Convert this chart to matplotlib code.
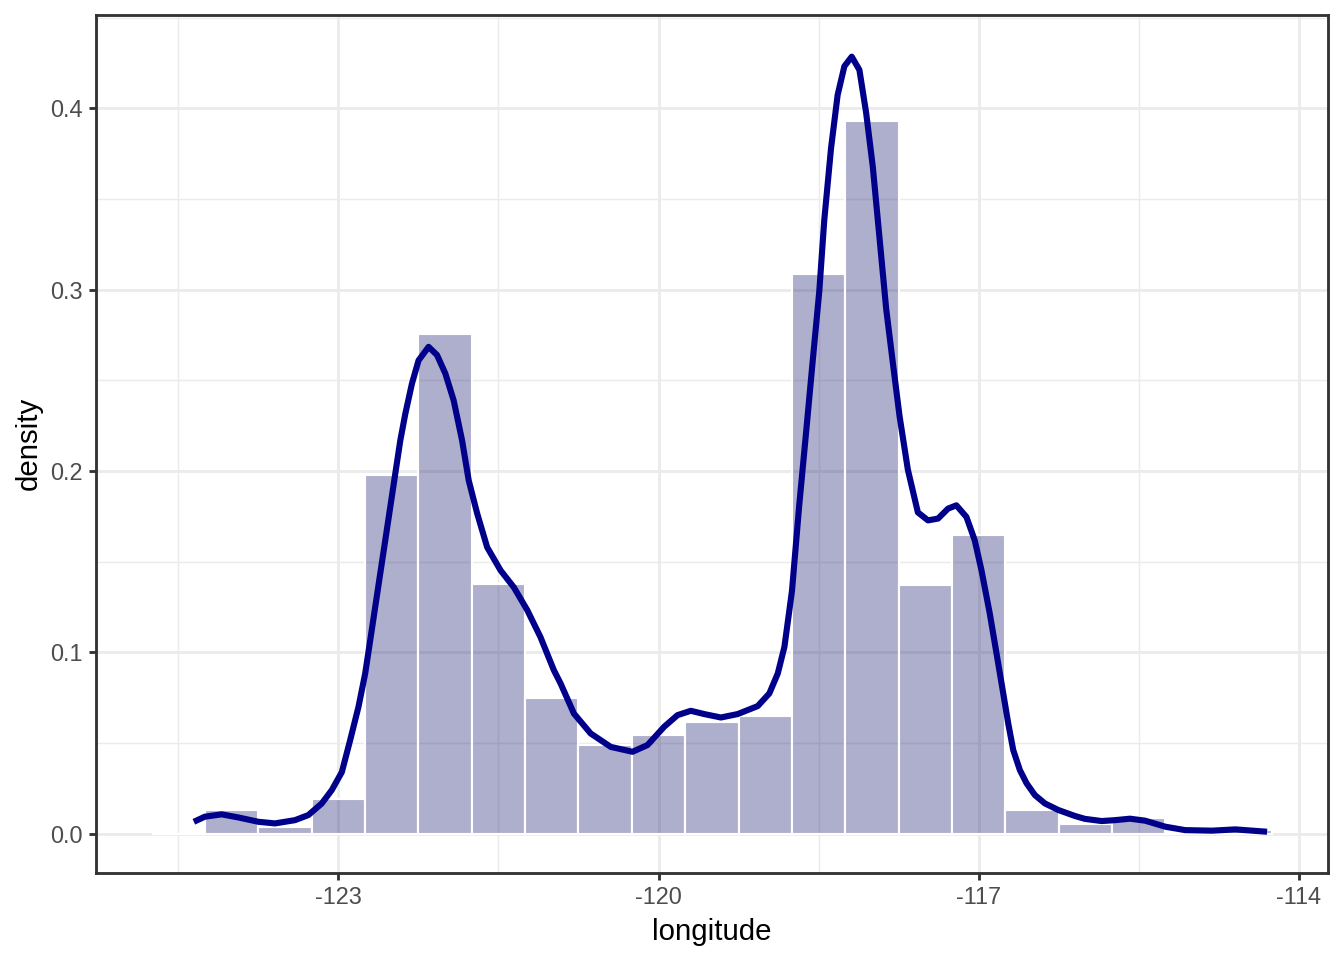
import numpy as np
import matplotlib
matplotlib.use("Agg")
import matplotlib.pyplot as plt
from matplotlib.ticker import MultipleLocator

plt.rcParams['font.family'] = ['Liberation Sans', 'DejaVu Sans']

# histogram: left edges of 0.5-wide bins and their density heights
bin_left = [-124.75, -124.25, -123.75, -123.25, -122.75, -122.25, -121.75,
            -121.25, -120.75, -120.25, -119.75, -119.25, -118.75, -118.25,
            -117.75, -117.25, -116.75, -116.25, -115.75, -115.25, -114.75]
bin_height = [0.0, 0.0132, 0.0039, 0.0193, 0.198, 0.2755, 0.1377,
              0.0749, 0.049, 0.0545, 0.0617, 0.065, 0.3085, 0.393,
              0.137, 0.1647, 0.0132, 0.0055, 0.0088, 0.001, 0.002]
bin_width = 0.5

# density curve
dens_x = [-124.355, -124.252, -124.095, -123.939, -123.751, -123.595, -123.407,
          -123.282, -123.156, -123.062, -122.968, -122.890, -122.812, -122.749,
          -122.702, -122.655, -122.608, -122.561, -122.514, -122.467, -122.420,
          -122.373, -122.311, -122.249, -122.155, -122.076, -121.998, -121.920,
          -121.841, -121.779, -121.700, -121.606, -121.481, -121.356, -121.230,
          -121.106, -120.981, -120.918, -120.793, -120.636, -120.448, -120.244,
          -120.103, -119.947, -119.822, -119.697, -119.572, -119.415, -119.258,
          -119.070, -118.961, -118.882, -118.820, -118.749, -118.681, -118.618,
          -118.556, -118.493, -118.446, -118.383, -118.321, -118.258, -118.189,
          -118.117, -118.054, -117.992, -117.929, -117.866, -117.804, -117.741,
          -117.663, -117.569, -117.474, -117.380, -117.286, -117.208, -117.114,
          -117.036, -116.973, -116.895, -116.816, -116.769, -116.722, -116.675,
          -116.613, -116.550, -116.472, -116.378, -116.253, -116.097, -116.003,
          -115.846, -115.721, -115.580, -115.439, -115.251, -115.064, -114.813,
          -114.594, -114.296]
dens_y = [0.0066, 0.0094, 0.0107, 0.0090, 0.0066, 0.0057, 0.0075,
          0.0103, 0.0167, 0.0241, 0.0340, 0.0516, 0.0700, 0.0884,
          0.1067, 0.1251, 0.1435, 0.1618, 0.1802, 0.1986, 0.2169,
          0.2316, 0.2482, 0.2610, 0.2685, 0.2640, 0.2538, 0.2390,
          0.2169, 0.1949, 0.1767, 0.1580, 0.1453, 0.1359, 0.1233,
          0.1084, 0.0902, 0.0829, 0.0663, 0.0553, 0.0479, 0.0452,
          0.0489, 0.0590, 0.0654, 0.0678, 0.0660, 0.0641, 0.0660,
          0.0704, 0.0774, 0.0884, 0.1030, 0.1339, 0.1812, 0.2205,
          0.2599, 0.2992, 0.3386, 0.3780, 0.4074, 0.4232, 0.4285,
          0.4212, 0.3976, 0.3681, 0.3288, 0.2894, 0.2599, 0.2304,
          0.2008, 0.1772, 0.1728, 0.1738, 0.1793, 0.1811, 0.1747,
          0.1618, 0.1453, 0.1214, 0.0939, 0.0774, 0.0608, 0.0461,
          0.0351, 0.0278, 0.0213, 0.0167, 0.0131, 0.0098, 0.0082,
          0.0070, 0.0075, 0.0083, 0.0072, 0.0039, 0.0020, 0.0017,
          0.0024, 0.0011]

x_ticks = [-123, -120, -117, -114]
y_ticks = [0.0, 0.1, 0.2, 0.3, 0.4]

fig = plt.figure(figsize=(7, 5), dpi=192)
ax = fig.add_axes([0.0712, 0.0909, 0.9169, 0.8935])

ax.bar(bin_left, bin_height, width=bin_width, align='edge',
       facecolor=(25/255, 25/255, 112/255, 0.35), edgecolor='white',
       linewidth=0.8, zorder=2)
ax.plot(dens_x, dens_y, color='#00008B', linewidth=2.3,
        solid_joinstyle='round', solid_capstyle='butt', zorder=3)

lo = bin_left[0]
hi = bin_left[-1] + bin_width
pad = (hi - lo) * 0.05
ax.set_xlim(lo - pad, hi + pad)
ax.set_ylim(-0.43 * 0.05, 0.43 * 1.05)

ax.set_xticks(x_ticks)
ax.set_xticklabels([f"{t:d}" for t in x_ticks])
ax.set_yticks(y_ticks)
ax.set_yticklabels([f"{t:.1f}" for t in y_ticks])
ax.xaxis.set_minor_locator(MultipleLocator(1.5))
ax.yaxis.set_minor_locator(MultipleLocator(0.05))

ax.set_axisbelow(True)
ax.grid(True, which='major', color='#EBEBEB', linewidth=1.07)
ax.grid(True, which='minor', color='#EBEBEB', linewidth=0.53)

for s in ax.spines.values():
    s.set_color('#333333')
    s.set_linewidth(1.07)

ax.tick_params(which='major', length=2.75, width=1.07, color='#333333',
               labelsize=8.8, labelcolor='#4D4D4D', pad=2.2)
ax.tick_params(which='minor', length=0)

ax.set_xlabel("longitude", fontsize=11, color='black', labelpad=3.5)
ax.set_ylabel("density", fontsize=11, color='black', labelpad=2.75)

fig.savefig("out.png", dpi=192)
